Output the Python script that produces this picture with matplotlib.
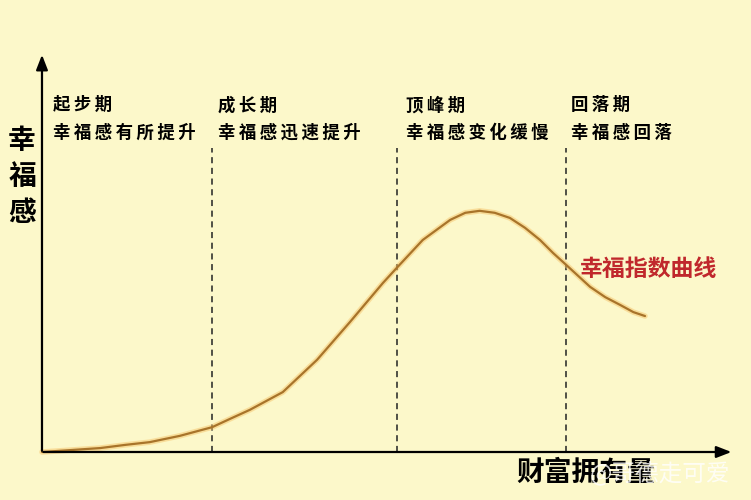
import matplotlib.pyplot as plt

plt.rcParams['font.family'] = ['Noto Sans CJK SC', 'DejaVu Sans']

########## Data (wealth on x, happiness on y, both 0..100)
wealth = [0, 2.6, 8.5, 12.1, 15.7, 20.1, 24.8, 27.4, 30.3, 35.1, 40.1, 44.9,
          49.7, 51.7, 55.5, 59.5, 61.7, 63.8, 66.0, 68.2, 70.4, 72.6,
          74.5, 76.4, 79.9, 82.1, 84.3, 86.2, 87.9]
happiness = [0, 0.3, 1.0, 1.8, 2.5, 4.1, 6.3, 8.4, 10.7, 15.2, 23.4, 33.0,
             42.9, 46.7, 53.8, 58.9, 60.7, 61.2, 60.7, 59.4, 56.9, 53.8,
             50.5, 47.5, 41.9, 39.3, 37.3, 35.5, 34.5]

stage_bounds = [24.8, 51.7, 76.4]
stage_names = ["起步期", "成长期", "顶峰期", "回落期"]
stage_notes = ["幸福感有所提升", "幸福感迅速提升", "幸福感变化缓慢", "幸福感回落"]
stage_text_x = [1.6, 25.7, 53.0, 77.1]

bg = "#FCF8CA"


def spaced(s):
    # the original has loose letter spacing
    return "\u2009".join(s)


fig = plt.figure(figsize=(7.51, 5.0), dpi=100, facecolor=bg)
ax = fig.add_axes([0, 0, 1, 1])
ax.set_facecolor(bg)
ax.set_xlim(-6.12, 103.35)
ax.set_ylim(-12.18, 114.7)
ax.axis("off")

########## Axes arrows
arrow = dict(arrowstyle="-|>,head_length=0.9,head_width=0.35", color="black", lw=1.6)
ax.annotate("", xy=(100.9, 0), xytext=(-0.2, 0), arrowprops=arrow)
ax.annotate("", xy=(0, 101.5), xytext=(0, -0.4), arrowprops=arrow)

########## Stage dividers
for b in stage_bounds:
    ax.plot([b, b], [0, 77.2], color="#222222", lw=1.1, linestyle=(0, (4, 3)))

########## Curve with a soft glow
ax.plot(wealth, happiness, color="#F6C46A", lw=4.0, alpha=0.5, solid_capstyle="round")
ax.plot(wealth, happiness, color="#A8742A", lw=1.6, solid_capstyle="round")

########## Stage labels
for x, name, note in zip(stage_text_x, stage_names, stage_notes):
    ax.text(x, 88.0, spaced(name), fontsize=12.5, fontweight="bold", va="center", ha="left")
    ax.text(x, 81.0, spaced(note), fontsize=12.5, fontweight="bold", va="center", ha="left")

ax.text(78.4, 46.2, "幸福指数曲线", fontsize=16.5, fontweight="bold",
        color="#C0282C", va="center", ha="left")

########## Axis titles
ax.text(-2.9, 69.8, "幸\n福\n感", fontsize=20, fontweight="bold",
        va="center", ha="center", linespacing=1.35)
ax.text(69.2, -5.2, "财富拥有量", fontsize=20, fontweight="bold",
        va="center", ha="left")
ax.text(79.8, -5.2, "@哥德走可爱", fontsize=17, color="white", alpha=0.8,
        va="center", ha="left")

fig.savefig("out.png", dpi=100, facecolor=bg)
